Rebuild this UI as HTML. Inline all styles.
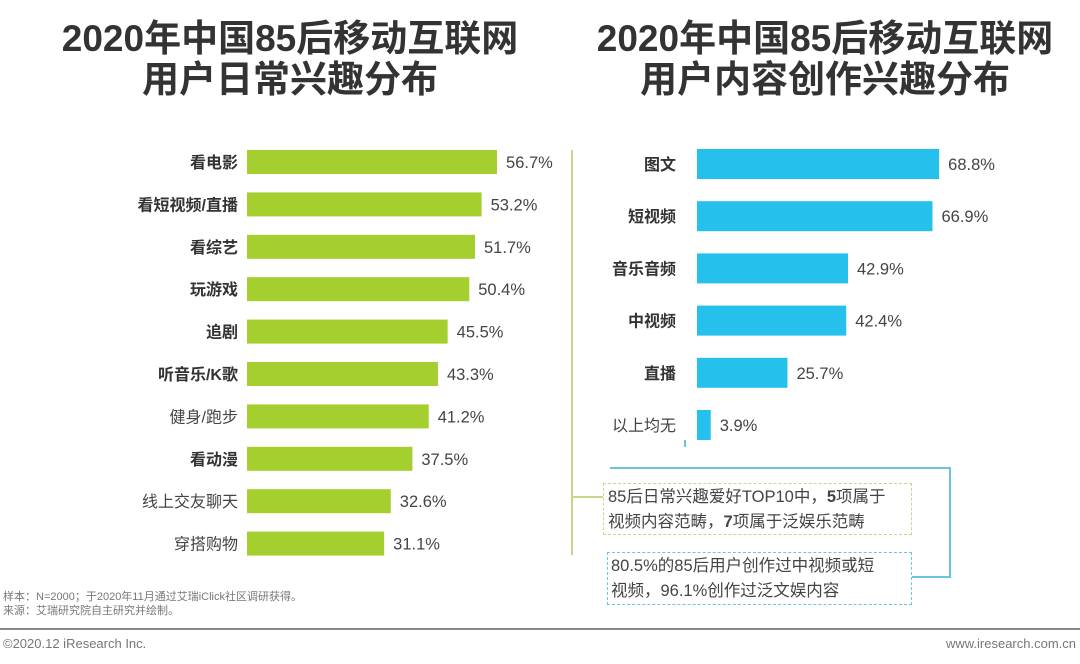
<!DOCTYPE html>
<html><head><meta charset="utf-8"><style>
body{margin:0;width:1080px;height:664px;background:#fff;font-family:"Liberation Sans","Noto Sans CJK SC",sans-serif;overflow:hidden;position:relative}
.t{position:absolute;font-weight:bold;font-size:37px;color:#333;text-align:center;line-height:41px}
.abs{position:absolute}
</style></head><body>
<div class="t" style="left:20px;top:18px;width:540px">2020年中国85后移动互联网<br>用户日常兴趣分布</div>
<div class="t" style="left:560px;top:18px;width:530px">2020年中国85后移动互联网<br>用户内容创作兴趣分布</div>
<svg id="chart" class="abs" style="left:0;top:0" width="1080" height="664"></svg>
<div class="abs" style="left:603px;top:483px;width:309px;height:52px;border:1.5px dashed #c8d68a;font-size:16.5px;color:#444;line-height:25px;padding-left:4px;box-sizing:border-box;padding-top:1px">85后日常兴趣爱好TOP10中，<b>5</b>项属于<br>视频内容范畴，<b>7</b>项属于泛娱乐范畴</div>
<div class="abs" style="left:607px;top:552px;width:305px;height:53px;border:1.5px dashed #6cc5de;font-size:16.5px;color:#444;line-height:25px;padding-left:3px;box-sizing:border-box;padding-top:1px">80.5%的85后用户创作过中视频或短<br>视频，96.1%创作过泛文娱内容</div>
<div class="abs" style="left:3px;top:590px;font-size:11px;color:#777;line-height:14px">样本：N=2000；于2020年11月通过艾瑞iClick社区调研获得。<br>来源：艾瑞研究院自主研究并绘制。</div>
<div class="abs" style="left:0;top:628px;width:1080px;height:2px;background:#888"></div>
<div class="abs" style="left:3px;top:636px;font-size:13px;color:#777">©2020.12 iResearch Inc.</div>
<div class="abs" style="right:4px;top:636px;font-size:13px;color:#777">www.iresearch.com.cn</div>
<script>
const leftCats=["看电影","看短视频/直播","看综艺","玩游戏","追剧","听音乐/K歌","健身/跑步","看动漫","线上交友聊天","穿搭购物"];
const leftVals=[56.7,53.2,51.7,50.4,45.5,43.3,41.2,37.5,32.6,31.1];
const leftBold=[1,1,1,1,1,1,0,1,0,0];
const rightCats=["图文","短视频","音乐音频","中视频","直播","以上均无"];
const rightVals=[68.8,66.9,42.9,42.4,25.7,3.9];
const rightBold=[1,1,1,1,1,0];
const svg=document.getElementById('chart');
const NS="http://www.w3.org/2000/svg";
function mk(t,a){const e=document.createElementNS(NS,t);for(const k in a)e.setAttribute(k,a[k]);svg.appendChild(e);return e;}
function drawChart(cats,vals,bold,x0,scale,y0,step,h,color,lx,prefix){
  cats.forEach((c,i)=>{
    const cy=y0+i*step,w=vals[i]*scale;
    const r=mk('rect',{x:x0,y:cy-h/2,width:w,height:h,fill:color});
    
    
    const l=mk('text',{x:lx,y:cy+6,'text-anchor':'end','font-size':16,fill:bold[i]?'#333':'#444','font-weight':bold[i]?'bold':'normal'});
    l.textContent=c;
    
    
    const v=mk('text',{x:x0+w+9,y:cy+6,'font-size':16.5,fill:'#444'});
    v.textContent=vals[i].toFixed(1)+'%';
    
    
  });
}
drawChart(leftCats,leftVals,leftBold,247,4.41,162,42.4,24,'#a4cf2f',238,'left');
drawChart(rightCats,rightVals,rightBold,697,3.52,164,52.2,30,'#25c0ec',676,'right');
const ln=(a,c,n)=>{const e=mk('polyline',{points:a,fill:'none',stroke:c,'stroke-width':2});};
ln('572,150 572,555','#c8d68a','green-bracket');
ln('572,497 603,497','#c8d68a','green-connector');
ln('610,468 950,468 950,577 912,577','#6cc5de','blue-bracket');
ln('685,440 685,447','#6cc5de','blue-tick');
</script>
</body></html>
